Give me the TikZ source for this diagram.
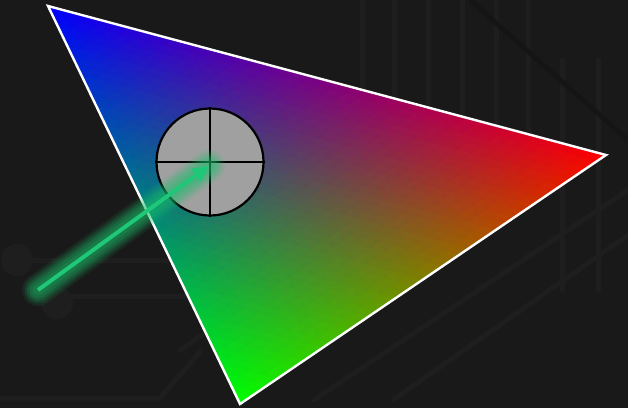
\documentclass[tikz,border=0pt]{standalone}
\usetikzlibrary{arrows.meta,calc}
\definecolor{bg}{RGB}{25,25,25}
\definecolor{faint}{RGB}{30,30,30}
\definecolor{darkfaint}{RGB}{21,21,21}
\definecolor{arrowgreen}{RGB}{30,200,120}
\definecolor{glowgreen}{RGB}{25,190,105}
\definecolor{diskgray}{RGB}{160,160,160}
\begin{document}
\begin{tikzpicture}[x=1pt,y=-1pt,
  faintline/.style={draw=faint, line width=5pt, line cap=round},
  meshcell/.style={fill=#1, draw=#1, line width=0.6pt, line join=round},
  edge/.style={draw=white, line width=2.4pt, line join=miter},
  disk/.style={circle, fill=diskgray, draw=black, line width=2.2pt, minimum size=107pt, inner sep=0pt},
  cross/.style={draw=black, line width=2pt},
  glow/.style={draw=glowgreen, line cap=round},
  arrowline/.style={draw=arrowgreen, line width=4pt, -{Triangle[length=16pt,width=15pt]}}]
\fill[bg] (0,0) rectangle (628,408);
\useasboundingbox (0,0) rectangle (628,408);
% faint background motifs
\begin{scope}
\clip (0,0) rectangle (628,408);
\foreach \x in {362,394,428,462,496,528} \draw[faintline] (\x,-5) -- (\x,200);
\foreach \x in {562,598} \draw[faintline] (\x,60) -- (\x,290);
\draw[darkfaint, line width=5pt] (470,0) -- (628,140);
\draw[faintline] (314,400) -- (628,190);
\draw[faintline] (393,400) -- (628,235);
\draw[faintline] (180,350) -- (400,200);
\draw[faintline] (-5,398) -- (160,398) -- (200,352);
\draw[faintline] (30,260) -- (200,260);
\draw[faintline] (70,296) -- (200,296);
\fill[faint] (17,260) circle (16);
\fill[faint] (57,303) circle (16);
\end{scope}
% triangle
\coordinate (B) at (48,6);
\coordinate (R) at (606,155);
\coordinate (G) at (240,404);
\def\N{40}
\foreach \i in {0,...,39}{
  \pgfmathtruncatemacro{\jmax}{39-\i}
  \foreach \j in {0,...,\jmax}{
    \pgfmathsetmacro{\ri}{\i/\N}
    \pgfmathsetmacro{\rp}{(\i+1)/\N}
    \pgfmathsetmacro{\gj}{\j/\N}
    \pgfmathsetmacro{\gp}{(\j+1)/\N}
    \pgfmathsetmacro{\ka}{1-\ri-\gj}
    \pgfmathsetmacro{\kb}{1-\rp-\gj}
    \pgfmathsetmacro{\kc}{1-\ri-\gp}
    \pgfmathsetmacro{\kd}{1-\rp-\gp}
    \pgfmathtruncatemacro{\down}{\i+\j<\N-1 ? 1 : 0}
    \pgfmathsetmacro{\colR}{(\i+1/3)/\N}
    \pgfmathsetmacro{\colG}{(\j+1/3)/\N}
    \pgfmathsetmacro{\colB}{max(0,1-\colR-\colG)}
    \definecolor{tc}{rgb}{\colR,\colG,\colB}
    \filldraw[meshcell=tc] (barycentric cs:R=\ri,G=\gj,B=\ka) -- (barycentric cs:R=\rp,G=\gj,B=\kb) -- (barycentric cs:R=\ri,G=\gp,B=\kc) -- cycle;
    \ifnum\down=1
      \pgfmathsetmacro{\colR}{(\i+2/3)/\N}
      \pgfmathsetmacro{\colG}{(\j+2/3)/\N}
      \pgfmathsetmacro{\colB}{max(0,1-\colR-\colG)}
      \definecolor{tc}{rgb}{\colR,\colG,\colB}
      \filldraw[meshcell=tc] (barycentric cs:R=\rp,G=\gj,B=\kb) -- (barycentric cs:R=\ri,G=\gp,B=\kc) -- (barycentric cs:R=\rp,G=\gp,B=\kd) -- cycle;
    \fi
  }
}
\draw[edge] (B) -- (R) -- (G) -- cycle;
% target disk
\node[disk] (c) at (210,162) {};
\draw[cross] (c.north) -- (c.south);
\draw[cross] (c.west) -- (c.east);
% arrow with glow
\coordinate (s) at (38,290);
\coordinate (t) at (209,166);
\foreach \w/\o in {32/0.10,27/0.14,22/0.18,17/0.2,11/0.18}
  \draw[glow, line width=\w pt, opacity=\o] (s) -- (t);
\draw[arrowline] (s) -- (t);
\end{tikzpicture}
\end{document}
